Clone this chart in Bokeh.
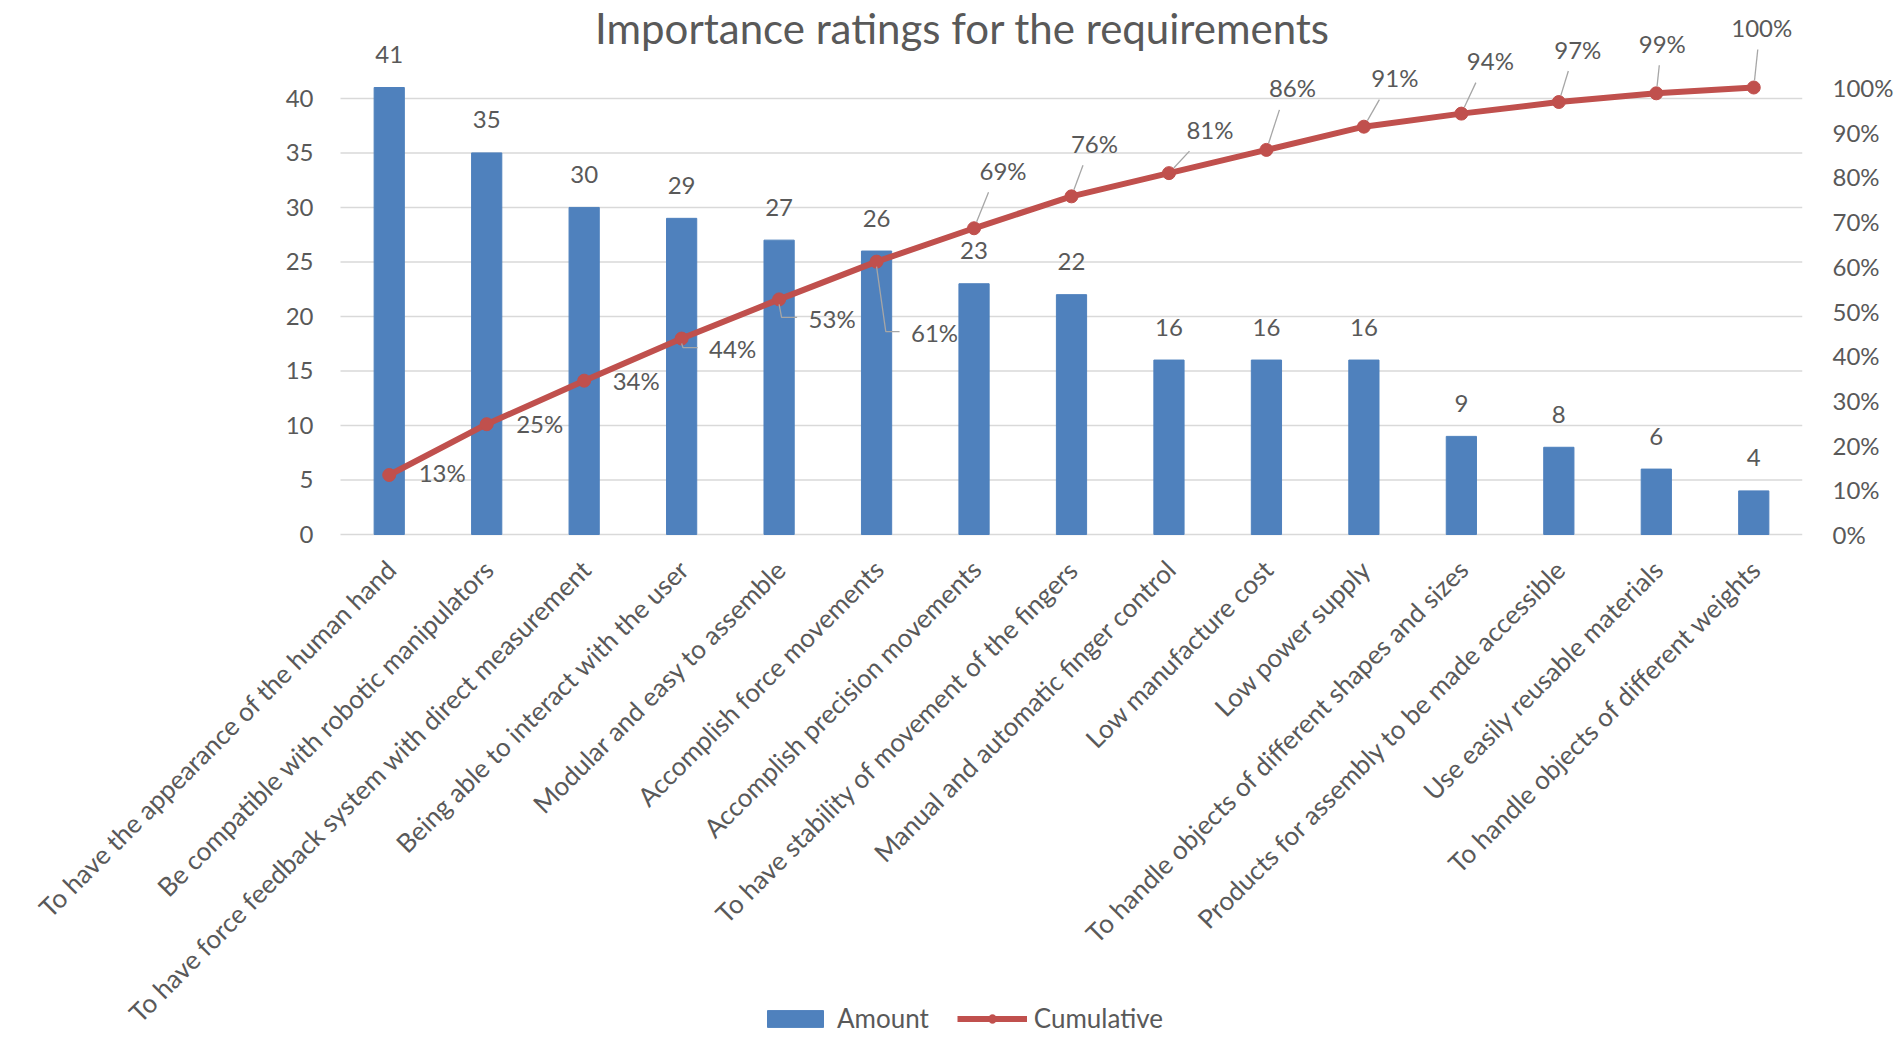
import math

from bokeh.core.properties import value
from bokeh.embed import file_html
from bokeh.models import (ColumnDataSource, FixedTicker, Label, LabelSet, Legend,
                          LegendItem, LinearAxis, NumeralTickFormatter, Range1d)
from bokeh.plotting import figure
from bokeh.resources import INLINE

# ---------------------------------------------------------------- data
requirements = [
    "To have the appearance of the human hand",
    "Be compatible with robotic manipulators",
    "To have force feedback system with direct measurement",
    "Being able to interact with the user",
    "Modular and easy to assemble",
    "Accomplish force movements",
    "Accomplish precision movements",
    "To have stability of movement of the fingers",
    "Manual and automatic finger control",
    "Low manufacture cost",
    "Low power supply",
    "To handle objects of different shapes and sizes",
    "Products for assembly to be made accessible",
    "Use easily reusable materials",
    "To handle objects of different weights",
]
amount = [41, 35, 30, 29, 27, 26, 23, 22, 16, 16, 16, 9, 8, 6, 4]
amount_ticks = [0, 5, 10, 15, 20, 25, 30, 35, 40]
pct_ticks = [0.0, 0.1, 0.2, 0.3, 0.4, 0.5, 0.6, 0.7, 0.8, 0.9, 1.0]

title_text = "Importance ratings for the requirements"

# ---------------------------------------------------------------- layout
W, H = 1897, 1044
PLOT_L, PLOT_R = 340, 1802            # plot area, left/right edges (px)
PLOT_TOP, PLOT_BOTTOM = 87, 534       # plot area, top/bottom edges (px)
PLOT_W = PLOT_R - PLOT_L
PLOT_H = PLOT_BOTTOM - PLOT_TOP
AMOUNT_MAX = 41                        # primary axis maximum

FONT = "Lato"
TEXT = "#595959"
BLUE = "#4F81BD"
RED = "#C0504D"
GRID = "#D9D9D9"
LEADER = "#A6A6A6"

n = len(amount)
xs = list(range(n))
total = sum(amount)
cum = []
running = 0
for a in amount:
    running += a
    cum.append(running / total)
cum_text = [f"{round(c * 100)}%" for c in cum]

px_x = PLOT_W / n
px_amt = PLOT_H / AMOUNT_MAX
px_pct = PLOT_H / 1.0

# the drawing frame covers the canvas from its left edge to the right of
# the plot area and its whole height: the category labels, value labels and
# legend are drawn inside it around the plot area
x_start = -0.5 - PLOT_L / px_x
x_end = n - 0.5
y_start = -(H - PLOT_BOTTOM) / px_amt
y_end = PLOT_BOTTOM / px_amt
pct_start = -(H - PLOT_BOTTOM) / px_pct
pct_end = PLOT_BOTTOM / px_pct

p = figure(
    width=W, height=H, title=None, toolbar_location=None,
    output_backend="svg", x_axis_location=None, y_axis_location=None,
    x_range=Range1d(x_start, x_end), y_range=Range1d(y_start, y_end),
    min_border_left=0, min_border_right=W - PLOT_R,
    min_border_top=0, min_border_bottom=0,
)
p.outline_line_color = None
p.background_fill_color = "white"
p.border_fill_color = "white"
p.extra_y_ranges = {"pct": Range1d(pct_start, pct_end)}
p.xgrid.grid_line_color = None
p.ygrid.grid_line_color = None

# ---------------------------------------------------------------- secondary axis
right = LinearAxis(y_range_name="pct", ticker=FixedTicker(ticks=pct_ticks),
                   formatter=NumeralTickFormatter(format="0%"))
right.axis_line_color = None
right.major_tick_line_color = None
right.minor_tick_line_color = None
right.major_label_text_font = FONT
right.major_label_text_font_size = "24px"
right.major_label_text_color = TEXT
right.major_label_standoff = 24
p.add_layout(right, "right")

# ---------------------------------------------------------------- primary axis: gridlines and labels
p.segment(x0=[-0.5] * len(amount_ticks), x1=[n - 0.5] * len(amount_ticks),
          y0=amount_ticks, y1=amount_ticks, line_color=GRID, line_width=1.5)
p.text(x=[-0.5 - 27 / px_x] * len(amount_ticks), y=amount_ticks,
       text=[str(t) for t in amount_ticks],
       text_align="right", text_baseline="middle",
       text_font=value(FONT), text_font_size="24px", text_color=TEXT)

# ---------------------------------------------------------------- category labels
cat_src = ColumnDataSource(dict(
    x=[i + 2 / px_x for i in xs],
    y=[-30 / px_amt] * n,
    lab=requirements,
))
p.text(x="x", y="y", text="lab", source=cat_src, angle=math.pi / 4,
       text_align="right", text_baseline="middle",
       text_font=value(FONT), text_font_size="26px", text_color=TEXT)

# ---------------------------------------------------------------- bars
bar_src = ColumnDataSource(dict(x=xs, top=amount, lab=[str(a) for a in amount]))
bars = p.vbar(x="x", top="top", bottom=0, width=0.31, source=bar_src,
              fill_color=BLUE, line_color=BLUE)

bar_labels = LabelSet(x="x", y="top", text="lab", source=bar_src,
                      y_offset=33, text_align="center", text_baseline="middle",
                      text_font=value(FONT), text_font_size="24px", text_color=TEXT)
p.add_layout(bar_labels)

# ---------------------------------------------------------------- cumulative line
line_r = p.line(xs, cum, y_range_name="pct", line_color=RED, line_width=6)
dots = p.scatter(xs, cum, y_range_name="pct", marker="circle", size=13,
                 fill_color=RED, line_color=RED)

# label placement around each point, in px (dx right, dy down)
label_offsets = [(53, -2), (53, -1), (52, 0), (51, 10), (53, 19), (58, 71),
                 (29, -58), (23, -53), (41, -44), (26, -62), (31, -49),
                 (29, -53), (19, -53), (6, -50), (8, -60)]

lab_x, lab_y = [], []
lead_xs, lead_ys = [], []
for i, (c, (dx, dy)) in enumerate(zip(cum, label_offsets)):
    lx = i + dx / px_x
    ly = c - dy / px_pct
    lab_x.append(lx)
    lab_y.append(ly)
    if dy > 5:
        # elbow leader running down from the point then across to the label
        elbow_x = i + (dy * 0.13) / px_x
        elbow_y = ly + 1 / px_pct
        end_x = lx - 35 / px_x
        lead_xs.append([i, elbow_x, end_x])
        lead_ys.append([c - 5 / px_pct, elbow_y, elbow_y])
    elif dy < -30:
        # straight leader from the point up to the label's lower edge
        ex_px, ey_px = dx * 0.5, dy + 22
        length = math.hypot(ex_px, ey_px)
        sx_px, sy_px = ex_px * 7 / length, ey_px * 7 / length
        lead_xs.append([i + sx_px / px_x, i + ex_px / px_x])
        lead_ys.append([c - sy_px / px_pct, c - ey_px / px_pct])

p.multi_line(lead_xs, lead_ys, y_range_name="pct", line_color=LEADER, line_width=1.3)

pct_src = ColumnDataSource(dict(x=lab_x, y=lab_y, lab=cum_text))
pct_labels = LabelSet(x="x", y="y", text="lab", source=pct_src, y_range_name="pct",
                      text_align="center", text_baseline="middle",
                      text_font=value(FONT), text_font_size="24px", text_color=TEXT)
p.add_layout(pct_labels)

# ---------------------------------------------------------------- title
title = Label(x=x_start + 962 / px_x, y=y_end - 27 / px_amt,
              text=title_text, text_align="center", text_baseline="middle",
              text_font=FONT, text_font_size="42px", text_color=TEXT)
p.add_layout(title)

# ---------------------------------------------------------------- legend
legend = Legend(
    items=[LegendItem(label="Amount", renderers=[bars]),
           LegendItem(label="Cumulative", renderers=[line_r, dots])],
    orientation="horizontal", location=(760, 10),
    glyph_width=70, glyph_height=21, label_standoff=7, spacing=28,
    padding=0, margin=0, border_line_color=None, background_fill_alpha=0,
    label_text_font=FONT, label_text_font_size="26px", label_text_color=TEXT,
)
p.add_layout(legend)

open("out.html", "w").write(file_html(p, INLINE))
